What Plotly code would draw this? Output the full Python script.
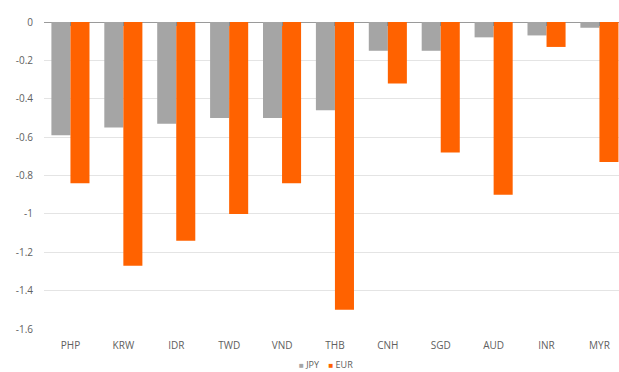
import plotly.graph_objects as go

categories = ["PHP", "KRW", "IDR", "TWD", "VND", "THB", "CNH", "SGD", "AUD", "INR", "MYR"]
jpy = [-0.59, -0.55, -0.53, -0.50, -0.50, -0.46, -0.15, -0.15, -0.08, -0.07, -0.03]
eur = [-0.84, -1.27, -1.14, -1.00, -0.84, -1.50, -0.32, -0.68, -0.90, -0.13, -0.73]
y_ticks = [0, -0.2, -0.4, -0.6, -0.8, -1, -1.2, -1.4, -1.6]
series_names = ["JPY", "EUR"]

GRAY = "#A5A5A5"
ORANGE = "#FF6200"
TEXT = "#606060"
FONT = "Open Sans, Lato, sans-serif"
colors = [GRAY, ORANGE]

fig = go.Figure()
for name, vals, col in zip(series_names, [jpy, eur], colors):
    fig.add_trace(go.Bar(x=categories, y=vals, name=name,
                         marker=dict(color=col, line=dict(width=0)), showlegend=False))
# invisible helper trace for the top axis (category boundary ticks)
fig.add_trace(go.Scatter(x=[0], y=[0], xaxis="x2", mode="markers", marker=dict(opacity=0),
                         showlegend=False, hoverinfo="skip"))

n = len(categories)
xr = [-0.5, n - 0.63]

# legend built as text: small coloured squares followed by the series names
legend_text = "&nbsp;&nbsp;&nbsp;&nbsp;".join(
    f'<span style="color:{c};font-size:8px">■</span> {nm}' for nm, c in zip(series_names, colors)
)

fig.update_layout(
    width=619, height=372,
    margin=dict(l=44, r=0, t=22, b=43),
    paper_bgcolor="white", plot_bgcolor="white",
    barmode="group", bargap=0.28, bargroupgap=0,
    font=dict(family=FONT, size=10, color=TEXT),
    xaxis=dict(range=xr, showgrid=False, showline=False, ticks="",
               ticklabelstandoff=9, tickfont=dict(size=10, color=TEXT), fixedrange=True),
    xaxis2=dict(overlaying="x", side="top", range=[xr[0] - 0.5, xr[1] - 0.5],
                tickvals=[i + 0.5 for i in range(-1, n)],
                ticks="inside", ticklen=4, tickwidth=1, tickcolor="#8a8a8a", showline=False,
                showgrid=False, showticklabels=False, zeroline=False, anchor="y"),
    yaxis=dict(range=[-1.6, 0], tickvals=y_ticks, ticktext=[f"{v:g}" for v in y_ticks],
               showgrid=True, gridcolor="#E4E4E4", gridwidth=1,
               zeroline=True, zerolinecolor="#9a9a9a", zerolinewidth=1,
               showline=False, ticks="", ticklabelstandoff=10,
               tickfont=dict(size=10, color=TEXT)),
    showlegend=False,
    annotations=[dict(text=legend_text, xref="paper", yref="paper", x=0.49, y=-0.115,
                      xanchor="center", yanchor="middle", showarrow=False,
                      font=dict(size=9, color=TEXT, family=FONT))],
)

fig.write_html("out.html")
